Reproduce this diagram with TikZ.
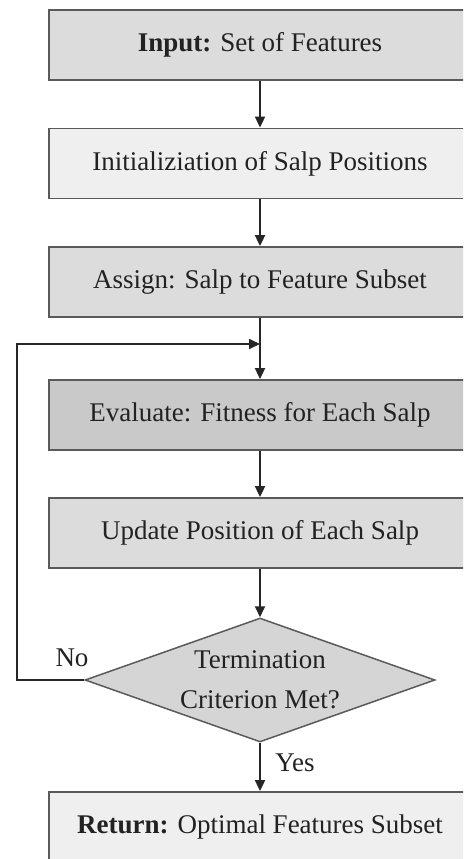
\documentclass[tikz,border=0pt]{standalone}
\usepackage{fontspec}
\setmainfont{Liberation Serif}
\usetikzlibrary{arrows.meta,shapes.geometric}
\definecolor{boxA}{HTML}{DCDCDC}
\definecolor{boxB}{HTML}{EFEFEF}
\definecolor{boxC}{HTML}{C9C9C9}
\definecolor{edgegray}{HTML}{5A5A5A}
\definecolor{inkgray}{HTML}{222222}
\tikzset{
  stepbox/.style={draw=edgegray, line width=1.8pt, rectangle, minimum width=422pt,
    minimum height=70pt, inner sep=0pt, text=inkgray,
    font=\fontsize{27}{32}\selectfont},
  decbox/.style={draw=edgegray, line width=1.5pt, diamond, aspect=2.82,
    minimum width=350pt, minimum height=124pt, inner sep=0pt, fill=boxA!97!black,
    text=inkgray, align=center, font=\fontsize{27}{40}\selectfont},
  flow/.style={line width=1.8pt, draw=black!85, -{Triangle[length=11pt,width=10pt]}},
  tag/.style={text=inkgray, font=\fontsize{27}{32}\selectfont, inner sep=0pt}
}
\begin{document}
\begin{tikzpicture}[x=1pt,y=-1pt]
  \useasboundingbox (0,0) rectangle (463,859);
  \clip (0,0) rectangle (463,859);
  \fill[white] (0,0) rectangle (463,859);

  % process steps
  \node[stepbox, fill=boxA] (input) at (260,45) {\textbf{Input:} Set of Features};
  \node[stepbox, fill=boxB] (init) at (260,163.5) {Initializiation of Salp Positions};
  \node[stepbox, fill=boxA] (assign) at (260,282) {Assign: Salp to Feature Subset};
  \node[stepbox, fill=boxC] (eval) at (260,415) {Evaluate: Fitness for Each Salp};
  \node[stepbox, fill=boxA] (update) at (260,533) {Update Position of Each Salp};
  \node[decbox] (stop) at (260,680) {Termination\\Criterion Met?};
  \node[stepbox, fill=boxB] (result) at (260,827) {\textbf{Return:} Optimal Features Subset};

  % point where the loop re-enters the main flow
  \coordinate (join) at (260,344);

  % connectors
  \draw[flow] (input) -- (init);
  \draw[flow] (init) -- (assign);
  \draw[flow] (assign) -- (eval);
  \draw[flow] (eval) -- (update);
  \draw[flow] (update) -- (stop);
  \draw[flow] (stop) -- (result);
  \draw[flow] (stop.west) -- ++(-67,0) |- (join);

  % branch labels
  \node[tag] (no) at (72,658) {No};
  \node[tag] (yes) at (295,763) {Yes};
\end{tikzpicture}
\end{document}
